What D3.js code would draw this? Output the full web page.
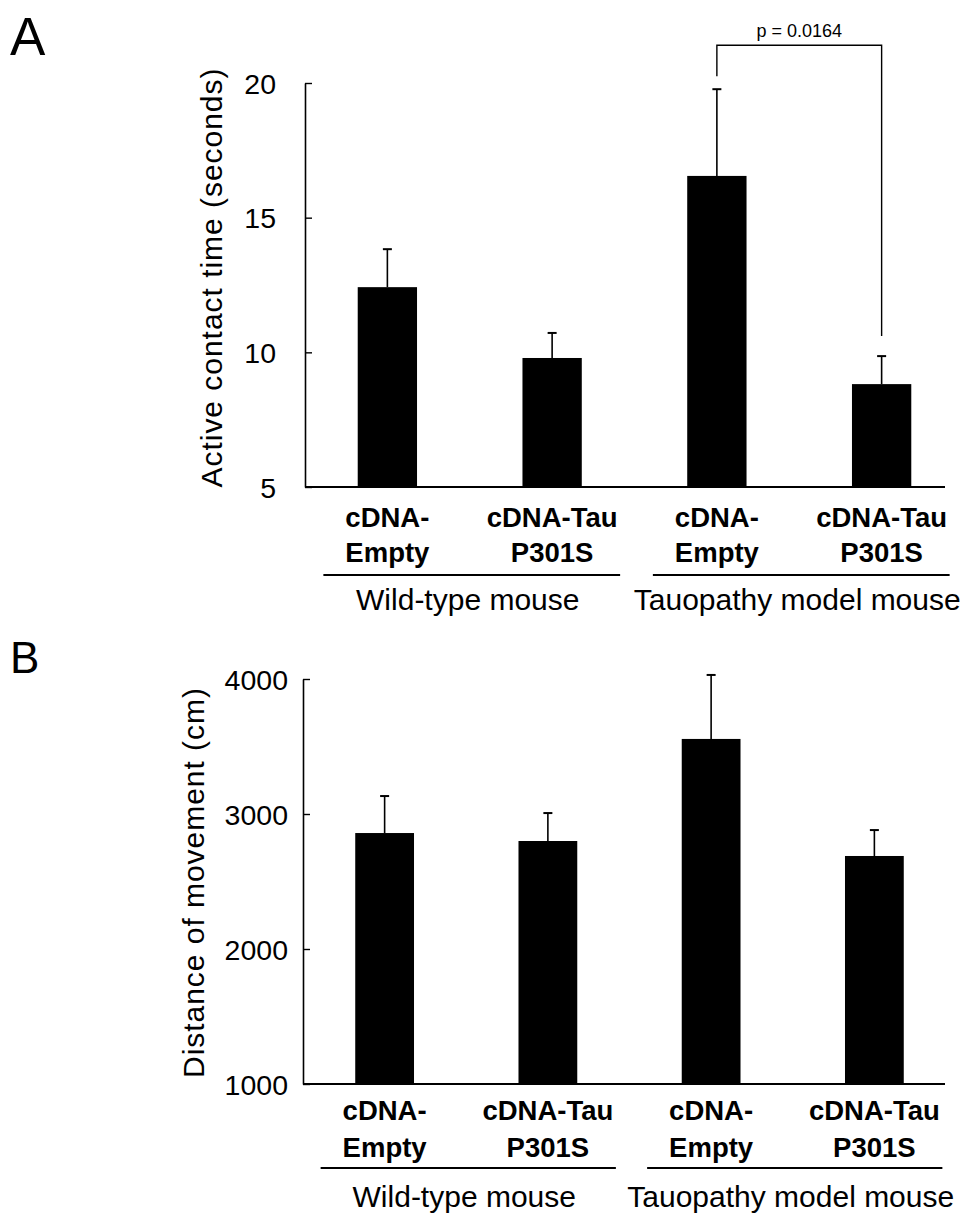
<!DOCTYPE html>
<html>
<head>
<meta charset="utf-8">
<script src="https://cdn.jsdelivr.net/npm/d3@7"></script>
<style>
  html, body { margin: 0; padding: 0; background: #fff; }
  svg { display: block; }
  text { font-family: "Liberation Sans", Arial, Helvetica, sans-serif; fill: #000; }
</style>
</head>
<body>
<svg id="chart" width="967" height="1217"></svg>
<script>
// ---------- data ----------
const categories = ["cDNA-Empty", "cDNA-Tau P301S", "cDNA-Empty", "cDNA-Tau P301S"];
const categoryLines = [["cDNA-", "Empty"], ["cDNA-Tau", "P301S"], ["cDNA-", "Empty"], ["cDNA-Tau", "P301S"]];
const groups = ["Wild-type mouse", "Tauopathy model mouse"];
const groupMembers = [[0, 1], [2, 3]];

const contactMean = [12.42, 9.79, 16.55, 8.82];
const contactSem = [1.41, 0.93, 3.22, 1.04];
const contactTicks = [5, 10, 15, 20];

const distanceMean = [2859, 2800, 3556, 2689];
const distanceSem = [274, 207, 474, 192];
const distanceTicks = [1000, 2000, 3000, 4000];

const pLabel = "p = 0.0164";
const pPair = [2, 3];
const pBracketTop = 21.4;

// ---------- drawing ----------
const svg = d3.select("#chart");

function drawPanel(cfg) {
  const g = svg.append("g");
  const x = d3.scaleBand().domain(d3.range(categories.length))
    .range(cfg.xRange).paddingInner(0.64).paddingOuter(0.32);
  const y = d3.scaleLinear().domain(cfg.yDomain).range(cfg.yRange);
  const axisX = cfg.xRange[0];
  const base = cfg.yRange[0];

  // bars
  g.selectAll("rect.bar").data(cfg.mean).enter().append("rect")
    .attr("class", "bar")
    .attr("x", (d, i) => x(i))
    .attr("width", x.bandwidth())
    .attr("y", d => y(d))
    .attr("height", d => base - y(d))
    .attr("fill", "#000");

  // error bars (upper only)
  const eb = g.selectAll("g.err").data(cfg.mean).enter().append("g").attr("class", "err");
  eb.append("line")
    .attr("x1", (d, i) => x(i) + x.bandwidth() / 2)
    .attr("x2", (d, i) => x(i) + x.bandwidth() / 2)
    .attr("y1", d => y(d))
    .attr("y2", (d, i) => y(d + cfg.sem[i]))
    .attr("stroke", "#000").attr("stroke-width", 1.6);
  eb.append("line")
    .attr("x1", (d, i) => x(i) + x.bandwidth() / 2 - 4.5)
    .attr("x2", (d, i) => x(i) + x.bandwidth() / 2 + 4.5)
    .attr("y1", (d, i) => y(d + cfg.sem[i]))
    .attr("y2", (d, i) => y(d + cfg.sem[i]))
    .attr("stroke", "#000").attr("stroke-width", 2);

  // y axis
  const yAxis = d3.axisLeft(y).tickValues(cfg.ticks).tickSizeInner(-7).tickSizeOuter(0)
    .tickPadding(cfg.tickPad).tickFormat(d3.format("d"));
  const ya = g.append("g").attr("transform", `translate(${axisX},0)`).call(yAxis);
  ya.select(".domain").attr("stroke", "#000").attr("stroke-width", 1.6);
  ya.selectAll(".tick line").attr("stroke", "#000").attr("stroke-width", 1.4);
  ya.selectAll(".tick text").attr("font-size", 28.5).attr("fill", "#000")
    .attr("font-family", '"Liberation Sans", Arial, sans-serif').attr("dy", "0.36em");

  // x axis line
  g.append("line").attr("x1", axisX).attr("x2", 945).attr("y1", base).attr("y2", base)
    .attr("stroke", "#000").attr("stroke-width", 1.8);

  // category labels
  categoryLines.forEach((lines, i) => {
    lines.forEach((t, k) => {
      g.append("text")
        .attr("x", x(i) + x.bandwidth() / 2)
        .attr("y", cfg.lineY[k])
        .attr("text-anchor", "middle")
        .attr("font-size", 27.5)
        .attr("font-weight", "bold")
        .text(t);
    });
  });

  // group underlines & labels
  groups.forEach((name, gi) => {
    const [a, b] = groupMembers[gi];
    const x1 = x(a) + x.bandwidth() / 2 - 64;
    const x2 = x(b) + x.bandwidth() / 2 + 68;
    g.append("line").attr("x1", x1).attr("x2", x2)
      .attr("y1", cfg.underY).attr("y2", cfg.underY)
      .attr("stroke", "#000").attr("stroke-width", 2);
    g.append("text").attr("x", (x1 + x2) / 2 - 4).attr("y", cfg.groupY)
      .attr("text-anchor", "middle").attr("font-size", 30).text(name);
  });

  // y title
  g.append("text")
    .attr("transform", `translate(${cfg.titleX},${cfg.titleY}) rotate(-90)`)
    .attr("text-anchor", "middle")
    .attr("font-size", 30)
    .attr("textLength", cfg.titleLen)
    .attr("lengthAdjust", "spacing")
    .text(cfg.title);

  // panel letter
  g.append("text").attr("x", 10).attr("y", cfg.letterY)
    .attr("font-size", cfg.letterSize).text(cfg.letter);

  return { g, x, y };
}

const A = drawPanel({
  mean: contactMean, sem: contactSem, ticks: contactTicks,
  xRange: [305, 964], yDomain: [5, 20], yRange: [487, 83], tickPad: 29,
  lineY: [527, 562], underY: 575, groupY: 610,
  title: "Active contact time (seconds)", titleX: 222, titleY: 278, titleLen: 419,
  letter: "A", letterY: 55, letterSize: 53
});

const B = drawPanel({
  mean: distanceMean, sem: distanceSem, ticks: distanceTicks,
  xRange: [303, 956], yDomain: [1000, 4000], yRange: [1084, 679], tickPad: 15,
  lineY: [1120, 1157], underY: 1168, groupY: 1207,
  title: "Distance of movement (cm)", titleX: 204, titleY: 883, titleLen: 390,
  letter: "B", letterY: 673, letterSize: 44
});

// significance bracket on panel A
(function () {
  const { g, x, y } = A;
  const [i, j] = pPair;
  const xi = x(i) + x.bandwidth() / 2;
  const xj = x(j) + x.bandwidth() / 2;
  const yTop = y(pBracketTop);
  const yi = y(contactMean[i] + contactSem[i]) - 13;
  const yj = y(contactMean[j] + contactSem[j]) - 20;
  g.append("path")
    .attr("d", `M${xi},${yi}V${yTop}H${xj}V${yj}`)
    .attr("fill", "none").attr("stroke", "#000").attr("stroke-width", 1.4);
  g.append("text").attr("x", (xi + xj) / 2).attr("y", 37)
    .attr("text-anchor", "middle").attr("font-size", 18).text(pLabel);
})();
</script>
</body>
</html>
